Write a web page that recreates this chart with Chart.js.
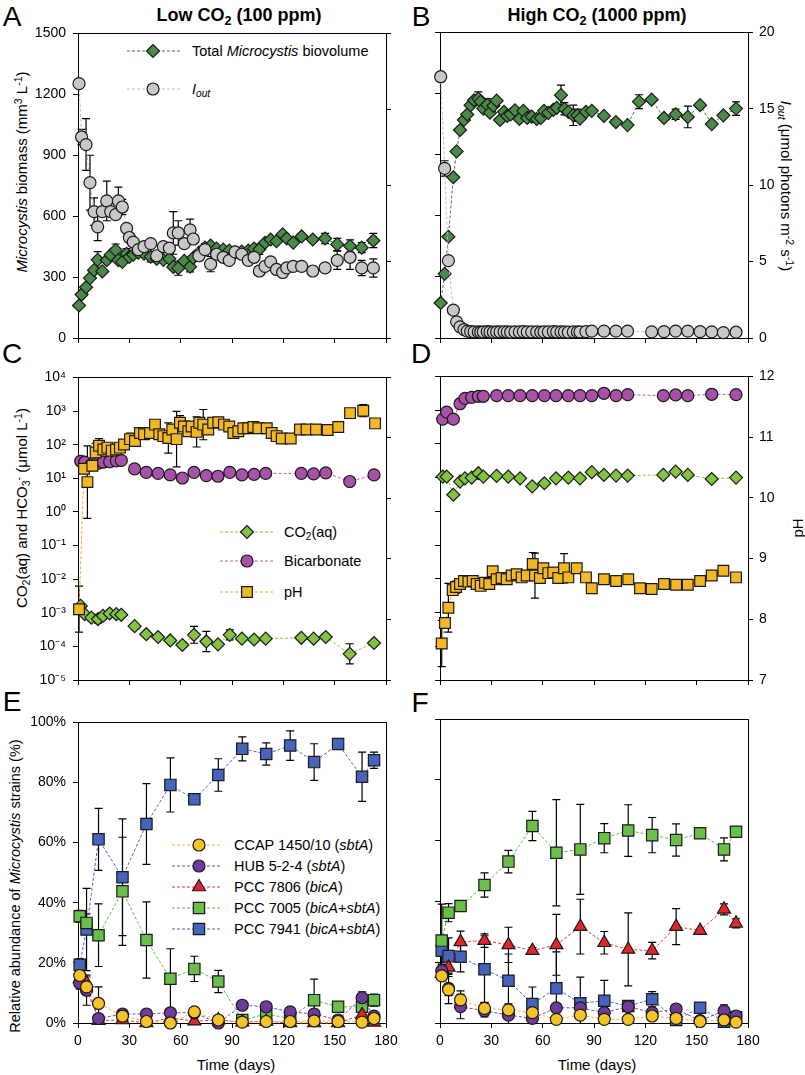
<!DOCTYPE html>
<html>
<head>
<meta charset="utf-8">
<title>Microcystis under low and high CO2</title>
<script src="https://cdn.jsdelivr.net/npm/chart.js@4.4.1/dist/chart.umd.min.js"></script>
<style>
  body { margin: 0; background: #fff; }
  #fig { position: relative; width: 805px; height: 1075px; overflow: hidden;
         font-family: "Liberation Sans", Arial, sans-serif; color: #000; }
  #fig canvas { position: absolute; }
  .c, .l { position: absolute; white-space: nowrap; line-height: 1; }
  .c { transform: translate(-50%, -50%); }
  .l { transform: translate(0, -50%); }
  .c.up { transform: translate(-50%, -50%) rotate(-90deg); }
  .c.down { transform: translate(-50%, -50%) rotate(90deg); }
  .sb { font-size: 0.7em; position: relative; top: 0.3em; }
  .sp { font-size: 0.7em; position: relative; top: -0.45em; }
  .let { font-size: 28px; }
  .ttl { font-size: 18px; font-weight: bold; }
  .ax { font-size: 15px; }
  .lg { font-size: 14.5px; }
</style>
</head>
<body>
<div id="fig">
  <!-- panel letters and column titles -->
  <div class="c let" style="left:12px;top:17px">A</div>
  <div class="c let" style="left:421px;top:17px">B</div>
  <div class="c let" style="left:12px;top:354px">C</div>
  <div class="c let" style="left:421px;top:354px">D</div>
  <div class="c let" style="left:12px;top:702px">E</div>
  <div class="c let" style="left:420px;top:703px">F</div>
  <div class="c ttl" style="left:239px;top:15px">Low CO<span class="sb">2</span> (100 ppm)</div>
  <div class="c ttl" style="left:597px;top:15px">High CO<span class="sb">2</span> (1000 ppm)</div>

  <!-- axis titles -->
  <div class="c up ax" style="left:21px;top:172px"><i>Microcystis</i> biomass (mm<span class="sp">3</span> L<span class="sp">-1</span>)</div>
  <div class="c down ax" style="left:786px;top:186px"><i>I<span class="sb">out</span></i> (μmol photons m<span class="sp">-2</span> s<span class="sp">-1</span>)</div>
  <div class="c up ax" style="left:21px;top:508px">CO<span class="sb">2</span>(aq) and HCO<span class="sb">3</span><span class="sp">-</span> (μmol L<span class="sp">-1</span>)</div>
  <div class="c up ax" style="left:797px;top:528px">pH</div>
  <div class="c up" style="left:15px;top:886px;font-size:14.5px">Relative abundance of <i>Microcystis</i> strains (%)</div>
  <div class="c ax" style="left:236px;top:1064px">Time (days)</div>
  <div class="c ax" style="left:597px;top:1064px">Time (days)</div>

  <!-- legend texts (keys are drawn on the canvas) -->
  <div class="l lg" style="left:192px;top:51px">Total <i>Microcystis</i> biovolume</div>
  <div class="l lg" style="left:192px;top:89px"><i>I<span class="sb">out</span></i></div>
  <div class="l lg" style="left:284px;top:532px">CO<span class="sb">2</span>(aq)</div>
  <div class="l lg" style="left:284px;top:561px">Bicarbonate</div>
  <div class="l lg" style="left:284px;top:592px">pH</div>
  <div class="l lg" style="left:234px;top:845px">CCAP 1450/10 (<i>sbtA</i>)</div>
  <div class="l lg" style="left:234px;top:866px">HUB 5-2-4 (<i>sbtA</i>)</div>
  <div class="l lg" style="left:234px;top:887px">PCC 7806 (<i>bicA</i>)</div>
  <div class="l lg" style="left:234px;top:908px">PCC 7005 (<i>bicA</i>+<i>sbtA</i>)</div>
  <div class="l lg" style="left:234px;top:929px">PCC 7941 (<i>bicA</i>+<i>sbtA</i>)</div>
</div>

<script>
// ---------- tick labels ----------
const dayTicks = [0, 30, 60, 90, 120, 150, 180];
const biomassTicks = [0, 300, 600, 900, 1200, 1500];
const ioutTicks = [0, 5, 10, 15, 20];
const carbonExps = [-5, -4, -3, -2, -1, 0, 1, 2, 3, 4];
const pHTicks = [7, 8, 9, 10, 11, 12];
const pctTicks = [0, 20, 40, 60, 80, 100];

// ---------- A: low CO2, biomass and Iout ----------
const lowDays = [0.6, 2.1, 4.7, 7, 9.4, 11.5, 14.2, 16.8, 19.1, 22, 23.6, 25.9, 28.4, 30, 32.3,
  35.3, 38.6, 42.5, 46, 49.9, 53.4, 55.7, 58.6, 62.1, 65.5, 67.4, 70.7, 74.2, 77.5, 81,
  84.9, 88.4, 91.8, 95.7, 99.5, 102.9, 106, 109.3, 112.6, 116, 119.6, 122, 125.8, 130.7, 137.2,
  144.4, 151.5, 159, 165.8, 172.6];
const lowBiovolume = [160, 214, 250, 295, 334, 385, 328, 383, 409, 433, 383, 375, 415, 399, 410,
  420, 415, 400, 390, 385, 390, 350, 344, 380, 351, 395, 420, 445, 455, 440,
  435, 430, 420, 425, 430, 440, 437, 469, 485, 477, 510, 490, 470, 500, 485,
  490, 461, 453, 445, 480];
const lowBiovolumeErr = [0, 0, 0, 0, 0, 40, 0, 0, 0, 30, 0, 0, 25, 0, 0,
  0, 0, 25, 0, 0, 0, 0, 35, 0, 25, 0, 0, 0, 0, 0,
  0, 0, 0, 0, 0, 0, 25, 0, 0, 0, 0, 0, 0, 0, 0,
  25, 30, 30, 25, 35];
const lowIout = [16.7, 13.2, 12.7, 10.2, 8.3, 7.3, 8.3, 9.0, 8.3, 8.1, 9.0, 8.6, 7.2, 6.6, 6.3,
  5.8, 6.0, 6.2, 5.4, 6.0, 5.9, 6.9, 6.9, 6.2, 7.1, 6.5, 5.4, 5.8, 4.85, 5.5,
  5.3, 5.1, 5.65, 5.5, 5.1, 5.3, 4.4, 4.7, 5.0, 4.5, 4.3, 4.6, 4.7, 4.7, 4.4,
  4.6, 5.1, 5.3, 4.6, 4.6];
const lowIoutErr = [0, 0.5, 1.7, 1.8, 0.9, 0.9, 0, 1.3, 0, 0, 0.9, 0.5, 0, 0, 0,
  0, 0, 0, 0, 0, 0, 1.4, 0.8, 0, 0.7, 0, 0, 0.4, 0.5, 0,
  0, 0, 0, 0, 0, 0, 0, 0, 0, 0, 0, 0, 0, 0, 0,
  0, 0.6, 0.8, 0.5, 0.6];

// ---------- B: high CO2, biomass and Iout ----------
const highDays = [0.4, 2.7, 4.9, 7.8, 9.7, 11.7, 14, 15.9, 17.9, 19.9, 22.4, 23.8, 25.3, 27.6, 29.2,
  31.2, 33.1, 35.1, 37.4, 39.3, 41.3, 43.8, 46.4, 48.7, 51, 53.6, 56.5, 58.9, 60.8, 63.3,
  66.2, 68.2, 70.7, 72.7, 75, 77.9, 80.3, 81.8, 85.3, 88.7, 95.8, 102.8, 109.6, 116.3, 123.7,
  130.9, 137.7, 144.8, 152, 158.8, 165.6, 173];
const highBiovolume = [172, 315, 497, 789, 916, 1021, 1070, 1097, 1143, 1167, 1175, 1160, 1126, 1145, 1106,
  1140, 1165, 1070, 1110, 1090, 1098, 1118, 1075, 1115, 1080, 1087, 1075, 1080, 1115, 1105,
  1120, 1130, 1192, 1125, 1110, 1093, 1093, 1077, 1110, 1115, 1090, 1060, 1045, 1160, 1170,
  1080, 1098, 1085, 1143, 1050, 1093, 1126];
const highBiovolumeErr = [0, 0, 0, 0, 0, 0, 0, 0, 0, 0, 33, 0, 0, 30, 0,
  0, 0, 0, 0, 0, 0, 0, 0, 0, 0, 0, 0, 0, 0, 0,
  0, 0, 49, 30, 0, 50, 30, 0, 0, 0, 0, 0, 0, 34, 0,
  0, 25, 53, 0, 0, 0, 33];
const highIout = [17.1, 11.1, 5.06, 1.82, 1.06, 0.73, 0.55, 0.45, 0.42, 0.4, 0.4, 0.38, 0.4, 0.42, 0.4,
  0.38, 0.4, 0.4, 0.41, 0.4, 0.38, 0.4, 0.4, 0.42, 0.4, 0.4, 0.4, 0.38, 0.4, 0.4,
  0.42, 0.4, 0.4, 0.4, 0.38, 0.4, 0.4, 0.4, 0.42, 0.45, 0.45, 0.45, 0.45, null, 0.4,
  0.42, 0.45, 0.45, 0.42, 0.4, 0.35, 0.38];
const highIoutErr = [0, 0.5, 0, 0, 0, 0, 0, 0, 0, 0, 0, 0, 0, 0, 0,
  0, 0, 0, 0, 0, 0, 0, 0, 0, 0, 0, 0, 0, 0, 0,
  0, 0, 0, 0, 0, 0, 0, 0, 0, 0, 0, 0, 0, 0, 0,
  0, 0, 0, 0, 0, 0, 0];

// ---------- C/D: carbon species (umol/L) and pH ----------
const carbonDays = [1.6, 3.9, 7.8, 11.7, 14.6, 18.5, 22.4, 25.3, 33.1, 39.9, 46.8, 53.9, 61, 67.8, 75,
  81.8, 88.7, 95.8, 102.9, 109.7, 130.5, 137.7, 144.8, 158.8, 173];
const lowBicarbonate = [32, 30, 25, 28, 30, 31, 33, 34, 19, 15, 14, 12.6, 10.2, 15, 12,
  11.5, 15, 12.6, 13, 14, 14, 13.5, 14.5, 8, 12.6];
const lowCO2 = [1.6e-3, 9.1e-4, 7.2e-4, 6.5e-4, 8.1e-4, 9.5e-4, 9.1e-4, 8.7e-4, 4e-4, 2.3e-4, 1.9e-4, 1.5e-4, 1.1e-4, 2.2e-4, 1.4e-4,
  1.15e-4, 2.2e-4, 1.7e-4, 1.6e-4, 1.7e-4, 1.8e-4, 1.7e-4, 1.9e-4, 6e-5, 1.26e-4];
const lowCO2Err = [0, 0, 0.1, 0.12, 0.1, 0, 0, 0, 0, 0, 0, 0, 0, 0.25, 0.3,
  0, 0.15, 0, 0, 0, 0.08, 0, 0, 0.3, 0];   // in decades
const highBicarbonate = [540, 870, 540, 1550, 2240, 2400, 2570, 2570, 2690, 2690, 2690, 2690, 2690, 2690, 2690,
  2690, 2690, 3160, 2690, 2880, 2690, 2820, 2690, 2950, 2880];
const highCO2 = [10.7, 10.7, 3.1, 7.6, 9.5, 10, 13.5, 10.7, 11.2, 10.7, 9.5, 5.5, 6.8, 9.5, 10,
  9.5, 14.5, 12, 11.5, 11.5, 12, 15.1, 12, 9.1, 10];

const pHLowDays = [0.6, 3.5, 5.5, 8.4, 10.3, 12.3, 14.8, 17.2, 19.7, 22.2, 24.5, 26.9, 30.4, 33.3, 36.2,
  38.6, 42.1, 45, 47.5, 49.9, 52.8, 55.1, 57.6, 59.6, 61.9, 64.5, 66.4, 69.3, 70.9, 73.2,
  76.1, 79, 82, 85.3, 88.4, 90.8, 93.7, 96.6, 99.5, 102.5, 105.4, 110.3, 113.2, 116.1, 119.1,
  124.3, 129.7, 133.6, 139.1, 145.9, 152.1, 159, 166.7, 173.6];
const pHLow = [8.17, 10.49, 10.27, 10.54, 10.76, 10.87, 10.81, 10.84, 10.79, 10.81, 10.84, 10.89, 10.98, 10.95, 11.08,
  11.06, 11.08, 11.22, 11.06, 11.03, 11.0, 11.14, 10.98, 11.25, 11.19, 11.11, 11.19, 11.1, 11.25, 11.22,
  11.14, 11.25, 11.26, 11.22, 11.19, 11.08, 11.11, 11.16, 11.16, 11.18, 11.16, 11.16, 11.08, 11.03, 10.99,
  10.99, 11.14, 11.14, 11.14, 11.13, 11.18, 11.41, 11.45, 11.24];
const pHLowErr = [0.38, 0, 0.6, 0, 0.15, 0.12, 0, 0, 0, 0, 0, 0, 0.1, 0, 0,
  0, 0, 0, 0, 0, 0.25, 0, 0.46, 0.12, 0, 0, 0, 0.25, 0, 0.25,
  0, 0, 0, 0, 0, 0, 0, 0, 0, 0, 0, 0, 0, 0, 0,
  0, 0, 0, 0, 0, 0, 0, 0.1, 0];

const pHHighDays = [1.0, 2.9, 4.9, 7.4, 9.4, 11.7, 14, 16.6, 19.1, 21.4, 23.8, 26.3, 28.8, 30.8, 33.1,
  36, 39, 41.9, 44.8, 47.7, 50.7, 54.2, 55.5, 58.4, 60.4, 63.3, 66.2, 69.1, 72.5, 75,
  79.9, 85.3, 88.7, 95.8, 102.9, 110, 116.9, 123.7, 130.9, 138, 144.8, 152, 158.8, 165.6, 173];
const pHHigh = [7.6, 7.94, 8.19, 8.48, 8.53, 8.58, 8.63, 8.62, 8.63, 8.58, 8.55, 8.6, 8.58, 8.79, 8.66,
  8.68, 8.66, 8.72, 8.74, 8.69, 8.72, 8.91, 8.72, 8.68, 8.84, 8.76, 8.77, 8.68, 8.84, 8.69,
  8.84, 8.69, 8.51, 8.66, 8.63, 8.66, 8.51, 8.5, 8.58, 8.57, 8.57, 8.63, 8.72, 8.8, 8.69];
const pHHighErr = [0.38, 0, 0.4, 0, 0.1, 0, 0, 0, 0, 0, 0, 0, 0, 0, 0,
  0, 0, 0, 0, 0, 0, 0.19, 0.37, 0, 0, 0, 0, 0, 0.24, 0,
  0, 0, 0, 0, 0, 0, 0, 0, 0, 0, 0, 0, 0, 0.06, 0];

// ---------- E/F: relative abundance of strains (%) ----------
const strainDays = [1, 5, 12, 26, 40, 54, 68, 82, 96, 110, 124, 138, 152, 166, 173];

const ccapLow = [15.8, 12, 6.5, 2.3, 0.5, 0, 3.7, 1, 0.3, 0.5, 0.5, 0.7, 0.5, 0.3, 1.5];
const hubLow = [13.3, 10.9, 1.5, 3, 3, 3.4, 3.4, 0, 5.9, 5.4, 3.7, 3, 1, 8.4, 2.3];
const pcc7806Low = [14.7, 13.3, 0.8, 1, 0, 1.7, 0.6, 1, 0.3, 0.5, 0, 0, 0, 2.7, 0.2];
const pcc7005Low = [35.5, 33.3, 29.2, 43.8, 27.6, 14.7, 18, 13.8, 1, 3, 1.5, 7.6, 5.4, 5.4, 7.6];
const pcc7941Low = [19.4, 31.1, 61.1, 48.5, 66.2, 79.2, 74.4, 82.5, 91.2, 89.5, 92.3, 86.8, 92.8, 81.9, 87.4];
const ccapLowErr = [2, 0, 5.5, 0, 0, 0, 1, 0, 0, 0, 0, 0, 0, 0, 0];
const hubLowErr = [2, 5, 0, 1, 0.5, 1, 1, 0, 1, 1, 0.5, 0, 0, 2, 0];
const pcc7806LowErr = [1, 2, 0, 0, 0, 0, 0, 0, 0, 0, 0, 0, 0, 1, 0];
const pcc7005LowErr = [2, 3, 10.4, 18, 12.7, 10, 4.2, 3.7, 1, 1, 1, 7, 0, 2, 2];
const pcc7941LowErr = [2, 13.7, 10.3, 19.4, 13.4, 9, 1, 5.4, 4, 3.7, 4.9, 6.1, 0, 8.2, 2.7];

const ccapHigh = [15.5, 11, 7.6, 4.8, 4.3, 3.4, 1.2, 2.6, 1.2, 1.2, 2.3, 1.5, 0.5, 1, 0.3];
const hubHigh = [17.2, 11.4, 5.4, 4.0, 2.6, 1.5, 5.0, 5.0, 3.4, 5.4, 3.4, 4.6, 0.8, 4.0, 2.3];
const pcc7806High = [16.3, 18.3, 26.7, 27.1, 25.7, 23.8, 25.7, 31.7, 26.4, 24.2, 23.8, 31.7, 30.4, 37.4, 32.8];
const pcc7005High = [27.1, 36.3, 38.5, 45.4, 53.1, 64.8, 56, 57.1, 60.8, 63.3, 61.8, 60.2, 62.4, 57.1, 62.9];
const pcc7941High = [23.8, 22, 21.8, 17.7, 13.9, 6.25, 11.4, 6.5, 7.3, 5.6, 7.8, 1, 5, 0.4, 1.9];
const ccapHighErr = [1, 2, 3, 2, 2, 1, 0, 1, 0, 0, 0, 0, 0, 0, 0];
const hubHighErr = [2, 5, 4, 2, 3, 1, 1, 1, 1, 1, 1, 1, 0, 2, 0];
const pcc7806HighErr = [2, 3, 3.5, 2.2, 5.8, 1, 10, 9, 3.7, 12, 2.7, 5.9, 0, 1.8, 1.5];
const pcc7005HighErr = [12, 3, 0, 4, 3.7, 4.8, 17.5, 14.8, 4.8, 8.5, 5.8, 5.3, 0, 3.8, 0];
const pcc7941HighErr = [4, 6, 5, 11, 8.8, 5.6, 12, 8.6, 6.7, 1.5, 2.5, 3, 0, 1, 1];

// ---------- styles ----------
const styles = {
  bio:   { shape: 'rectRot',  r: 6.5, fill: '#4b8b48', line: '#3f7f3c', order: 1 },
  iout:  { shape: 'circle',   r: 6,   fill: '#c8c8c8', line: '#bdbdbd', order: 0 },
  co2:   { shape: 'rectRot',  r: 6.5, fill: '#82c341', line: '#86c340', order: 2 },
  bic:   { shape: 'circle',   r: 6,   fill: '#a851a8', line: '#b060b0', order: 1 },
  ph:    { shape: 'rect',     r: 7.6, fill: '#f4b824', line: '#eab030', order: 0 },
  ccap:  { shape: 'circle',   r: 6,   fill: '#f7c325', line: '#f0be2a', order: 0 },
  hub:   { shape: 'circle',   r: 6,   fill: '#6e3a9c', line: '#7a4aa8', order: 1 },
  s7806: { shape: 'triangle', r: 7.5, fill: '#e3262b', line: '#e03a3a', order: 2 },
  s7005: { shape: 'rect',     r: 8,   fill: '#6abf4b', line: '#5db44a', order: 3 },
  s7941: { shape: 'rect',     r: 8,   fill: '#4464be', line: '#4a66b8', order: 4 }
};

const PAD = { l: 62, r: 52, t: 12, b: 34 };
const SUP = { '-': '⁻', '0': '⁰', '1': '¹', '2': '²', '3': '³', '4': '⁴', '5': '⁵' };

Chart.defaults.font.family = '"Liberation Sans", Arial, sans-serif';
Chart.defaults.font.size = 14;
Chart.defaults.color = '#000';

// error bars, drawn under the markers
const errorBars = {
  id: 'errorBars',
  beforeDatasetsDraw(chart) {
    const ctx = chart.ctx, area = chart.chartArea;
    ctx.save();
    ctx.strokeStyle = '#000';
    ctx.lineWidth = 1.2;
    chart.data.datasets.forEach((ds, i) => {
      if (!ds.errs) return;
      const meta = chart.getDatasetMeta(i);
      const ys = chart.scales[meta.yAxisID];
      const isLog = ys.type === 'logarithmic';
      ds.data.forEach((p, j) => {
        const e = ds.errs[j];
        if (!e || p.y == null) return;
        const x = meta.data[j].x;
        const hi = isLog ? p.y * Math.pow(10, e) : p.y + e;
        const lo = isLog ? p.y / Math.pow(10, e) : p.y - e;
        const y1 = Math.max(area.top, ys.getPixelForValue(hi));
        const y2 = Math.min(area.bottom, ys.getPixelForValue(lo));
        ctx.beginPath();
        ctx.moveTo(x, y1); ctx.lineTo(x, y2);
        ctx.moveTo(x - 4, y1); ctx.lineTo(x + 4, y1);
        if (y2 < area.bottom) { ctx.moveTo(x - 4, y2); ctx.lineTo(x + 4, y2); }
        ctx.stroke();
      });
    });
    ctx.restore();
  }
};

// closed box round each plot
const frame = {
  id: 'frame',
  beforeDatasetsDraw(chart) {
    const a = chart.chartArea, ctx = chart.ctx;
    const al = v => Math.round(v - 0.5) + 0.5;
    ctx.save();
    ctx.strokeStyle = '#000';
    ctx.lineWidth = 1;
    ctx.strokeRect(al(a.left), al(a.top), al(a.right) - al(a.left), al(a.bottom) - al(a.top));
    ctx.restore();
  }
};

// legend keys (dashed line + marker); texts are html
const legendKeys = {
  id: 'legendKeys',
  afterDatasetsDraw(chart, args, opts) {
    if (!opts || !opts.items) return;
    const ctx = chart.ctx;
    opts.items.forEach(it => {
      const ds = chart.data.datasets[it.ds];
      const y = it.y - opts.oy;
      ctx.save();
      ctx.strokeStyle = ds.borderColor;
      ctx.lineWidth = 1;
      ctx.setLineDash(ds.borderDash);
      ctx.beginPath();
      ctx.moveTo(opts.x0 - opts.ox, y);
      ctx.lineTo(opts.x1 - opts.ox, y);
      ctx.stroke();
      ctx.setLineDash([]);
      ctx.fillStyle = ds.pointBackgroundColor;
      ctx.strokeStyle = ds.pointBorderColor;
      ctx.lineWidth = ds.pointBorderWidth;
      Chart.helpers.drawPoint(ctx, { pointStyle: ds.pointStyle, radius: ds.pointRadius,
        borderWidth: ds.pointBorderWidth, rotation: 0 }, opts.xm - opts.ox, y);
      ctx.restore();
    });
  }
};

Chart.register(errorBars, frame, legendKeys);

function series(days, vals, st, errs, yAxisID) {
  return {
    data: days.map((d, i) => ({ x: d, y: vals[i] })),
    errs: errs,
    yAxisID: yAxisID || 'y',
    borderColor: st.line,
    borderWidth: 1,
    borderDash: [3, 2],
    pointStyle: st.shape,
    pointRadius: st.r,
    pointBackgroundColor: st.fill,
    pointBorderColor: '#1a1a1a',
    pointBorderWidth: 1.2,
    showLine: true,
    spanGaps: true,
    clip: false,
    order: st.order
  };
}

function axis(pos, vals, showLabels, opts) {
  opts = opts || {};
  const horiz = pos === 'bottom';
  return {
    type: opts.log ? 'logarithmic' : 'linear',
    position: pos,
    min: vals[0],
    max: vals[vals.length - 1],
    afterBuildTicks: s => { s.ticks = vals.map(v => ({ value: v })); },
    afterFit: s => {
      if (horiz) s.height = PAD.b;
      else s.width = pos === 'left' ? PAD.l : PAD.r;
    },
    ticks: {
      display: showLabels,
      color: '#000',
      font: { size: 14 },
      padding: horiz ? 5 : (pos === 'left' ? 7 : 6),
      autoSkip: false,
      maxRotation: 0,
      callback: opts.fmt || (v => v)
    },
    grid: { drawOnChartArea: false, drawTicks: !opts.noTicks, tickLength: 5, color: '#000', lineWidth: 1 },
    border: { display: true, color: '#000', width: 1 }
  };
}

const logVals = carbonExps.map(e => Math.pow(10, e));
const logLabel = v => {
  const e = Math.round(Math.log10(v));
  return '10' + String(e).split('').map(ch => SUP[ch]).join('');
};

function makeChart(rect, datasets, scales, legend) {
  const cv = document.createElement('canvas');
  const w = rect.w + PAD.l + PAD.r, h = rect.h + PAD.t + PAD.b;
  cv.width = w; cv.height = h;
  cv.style.left = (rect.l - PAD.l) + 'px';
  cv.style.top = (rect.t - PAD.t) + 'px';
  cv.style.width = w + 'px';
  cv.style.height = h + 'px';
  document.getElementById('fig').appendChild(cv);
  if (legend) { legend.ox = rect.l - PAD.l; legend.oy = rect.t - PAD.t; }
  return new Chart(cv, {
    type: 'scatter',
    data: { datasets: datasets },
    options: {
      responsive: false,
      animation: false,
      devicePixelRatio: 1,
      events: [],
      layout: { padding: { top: PAD.t, left: 0, right: 0, bottom: 0 } },
      scales: scales,
      plugins: { legend: { display: false }, tooltip: { enabled: false }, legendKeys: legend || {} }
    }
  });
}

// A
makeChart({ l: 78, t: 30, w: 308, h: 308 }, [
  series(lowDays, lowBiovolume, styles.bio, lowBiovolumeErr, 'y'),
  series(lowDays, lowIout, styles.iout, lowIoutErr, 'y2')
], {
  x: axis('bottom', dayTicks, false),
  y: axis('left', biomassTicks, true),
  y2: axis('right', ioutTicks, false)
}, { x0: 127, x1: 180, xm: 153, items: [{ ds: 0, y: 51 }, { ds: 1, y: 89 }] });

// B
makeChart({ l: 440, t: 30, w: 308, h: 308 }, [
  series(highDays, highBiovolume, styles.bio, highBiovolumeErr, 'y'),
  series(highDays, highIout, styles.iout, highIoutErr, 'y2')
], {
  x: axis('bottom', dayTicks, false),
  y: axis('left', biomassTicks, false),
  y2: axis('right', ioutTicks, true)
});

// C
makeChart({ l: 78, t: 374, w: 308, h: 306 }, [
  series(carbonDays, lowCO2, styles.co2, lowCO2Err, 'y'),
  series(carbonDays, lowBicarbonate, styles.bic, null, 'y'),
  series(pHLowDays, pHLow, styles.ph, pHLowErr, 'y2')
], {
  x: axis('bottom', dayTicks, false),
  y: axis('left', logVals, true, { log: true, fmt: logLabel }),
  y2: axis('right', pHTicks, false)
}, { x0: 220, x1: 273, xm: 247, items: [{ ds: 0, y: 532 }, { ds: 1, y: 561 }, { ds: 2, y: 592 }] });

// D
makeChart({ l: 440, t: 374, w: 308, h: 306 }, [
  series(carbonDays, highCO2, styles.co2, null, 'y'),
  series(carbonDays, highBicarbonate, styles.bic, null, 'y'),
  series(pHHighDays, pHHigh, styles.ph, pHHighErr, 'y2')
], {
  x: axis('bottom', dayTicks, false),
  y: axis('left', logVals, false, { log: true, fmt: logLabel }),
  y2: axis('right', pHTicks, true)
});

// E
makeChart({ l: 78, t: 719, w: 308, h: 304 }, [
  series(strainDays, ccapLow, styles.ccap, ccapLowErr),
  series(strainDays, hubLow, styles.hub, hubLowErr),
  series(strainDays, pcc7806Low, styles.s7806, pcc7806LowErr),
  series(strainDays, pcc7005Low, styles.s7005, pcc7005LowErr),
  series(strainDays, pcc7941Low, styles.s7941, pcc7941LowErr)
], {
  x: axis('bottom', dayTicks, true),
  y: axis('left', pctTicks, true, { fmt: v => v + '%' }),
  y2: axis('right', [0, 100], false, { noTicks: true })
}, { x0: 172, x1: 222, xm: 199, items: [
  { ds: 0, y: 845 }, { ds: 1, y: 866 }, { ds: 2, y: 887 }, { ds: 3, y: 908 }, { ds: 4, y: 929 }
] });

// F
makeChart({ l: 440, t: 719, w: 308, h: 304 }, [
  series(strainDays, ccapHigh, styles.ccap, ccapHighErr),
  series(strainDays, hubHigh, styles.hub, hubHighErr),
  series(strainDays, pcc7806High, styles.s7806, pcc7806HighErr),
  series(strainDays, pcc7005High, styles.s7005, pcc7005HighErr),
  series(strainDays, pcc7941High, styles.s7941, pcc7941HighErr)
], {
  x: axis('bottom', dayTicks, true),
  y: axis('left', pctTicks, false),
  y2: axis('right', [0, 100], false, { noTicks: true })
});
</script>
</body>
</html>
